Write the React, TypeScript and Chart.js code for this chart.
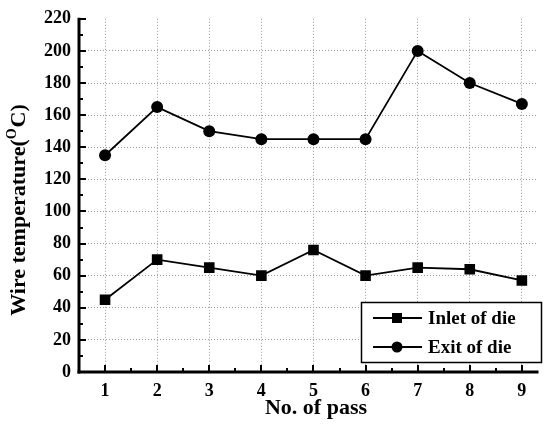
import React, { useEffect, useRef } from "react";
import { Chart, registerables } from "chart.js";

Chart.register(...registerables);

const passes = [1, 2, 3, 4, 5, 6, 7, 8, 9];
const inletTemps = [45, 70, 65, 60, 76, 60, 65, 64, 57];
const exitTemps = [135, 165, 150, 145, 145, 145, 200, 180, 167];
const yTickValues = [0, 20, 40, 60, 80, 100, 120, 140, 160, 180, 200, 220];
const xTickValues = [1, 2, 3, 4, 5, 6, 7, 8, 9];
const seriesNames = ["Inlet of die", "Exit of die"];
const xTitle = "No. of pass";
const yTitleMain = "Wire temperature(";
const yTitleSup = "O";
const yTitleEnd = "C)";

const FONT = '"Liberation Serif", "Times New Roman", serif';

const decorPlugin = {
  id: "decor",
  afterDraw(chart: any) {
    const { ctx, chartArea, scales } = chart;
    const { left, right, top, bottom } = chartArea;
    const xs = scales.x;
    const ys = scales.y;
    ctx.save();
    ctx.strokeStyle = "#000";
    ctx.fillStyle = "#000";
    // axes
    ctx.lineWidth = 3;
    ctx.beginPath();
    ctx.moveTo(left, top - 1);
    ctx.lineTo(left, bottom + 1.5);
    ctx.stroke();
    ctx.beginPath();
    ctx.moveTo(left - 1.5, bottom);
    ctx.lineTo(right + 1, bottom);
    ctx.stroke();
    // y ticks (inward)
    ctx.lineWidth = 2;
    for (let v = 0; v <= 220; v += 10) {
      const py = Math.round(ys.getPixelForValue(v));
      const len = v % 20 === 0 ? 7 : 4;
      ctx.beginPath();
      ctx.moveTo(left, py);
      ctx.lineTo(left + len, py);
      ctx.stroke();
    }
    // x ticks (inward)
    for (let v = 1; v <= 9; v += 0.5) {
      const px = Math.round(xs.getPixelForValue(v));
      const len = Number.isInteger(v) ? 7 : 4;
      ctx.beginPath();
      ctx.moveTo(px, bottom);
      ctx.lineTo(px, bottom - len);
      ctx.stroke();
    }
    // x title
    ctx.font = `bold 22px ${FONT}`;
    ctx.textAlign = "center";
    ctx.textBaseline = "middle";
    ctx.fillText(xTitle, 316, 408);
    // y title with superscript
    ctx.save();
    ctx.translate(19, 210);
    ctx.rotate(-Math.PI / 2);
    ctx.textAlign = "left";
    ctx.textBaseline = "middle";
    const big = `bold 22px ${FONT}`;
    const small = `bold 14px ${FONT}`;
    ctx.font = big;
    const w1 = ctx.measureText(yTitleMain).width;
    const w3 = ctx.measureText(yTitleEnd).width;
    ctx.font = small;
    const w2 = ctx.measureText(yTitleSup).width + 1;
    const total = w1 + w2 + w3;
    let sx = -total / 2;
    ctx.font = big;
    ctx.fillText(yTitleMain, sx, 0);
    sx += w1;
    ctx.font = small;
    ctx.fillText(yTitleSup, sx, -7);
    sx += w2;
    ctx.font = big;
    ctx.fillText(yTitleEnd, sx, 0);
    ctx.restore();
    // legend
    const bx = 361.5, by = 302.5, bw = 180, bh = 60;
    ctx.fillStyle = "#fff";
    ctx.fillRect(bx, by, bw, bh);
    ctx.lineWidth = 1.5;
    ctx.strokeStyle = "#000";
    ctx.strokeRect(bx, by, bw, bh);
    ctx.fillStyle = "#000";
    const rows = [318, 347];
    seriesNames.forEach((name, i) => {
      const ry = rows[i];
      ctx.lineWidth = 2;
      ctx.beginPath();
      ctx.moveTo(373, ry);
      ctx.lineTo(422, ry);
      ctx.stroke();
      if (i === 0) {
        ctx.fillRect(397 - 5, ry - 5, 10, 10);
      } else {
        ctx.beginPath();
        ctx.arc(397, ry, 5.5, 0, Math.PI * 2);
        ctx.fill();
      }
      ctx.font = `bold 19px ${FONT}`;
      ctx.textAlign = "left";
      ctx.textBaseline = "middle";
      ctx.fillText(name, 428, ry + 1);
    });
    ctx.restore();
  },
};

export default function App() {
  const ref = useRef<HTMLCanvasElement | null>(null);
  useEffect(() => {
    document.body.style.margin = "0";
    const canvas = ref.current;
    if (!canvas) return;
    const gridColor = (c: any) =>
      c.tick && (c.tick.value === 0 || c.tick.value === 220) ? "rgba(0,0,0,0)" : "#9a9a9a";
    const chart = new Chart(canvas, {
      type: "line",
      data: {
        datasets: [
          {
            label: seriesNames[0],
            data: passes.map((p, i) => ({ x: p, y: inletTemps[i] })),
            borderColor: "#000",
            backgroundColor: "#000",
            borderWidth: 1.8,
            pointStyle: "rect",
            pointRadius: 7.5,
            pointBorderWidth: 0,
            tension: 0,
          },
          {
            label: seriesNames[1],
            data: passes.map((p, i) => ({ x: p, y: exitTemps[i] })),
            borderColor: "#000",
            backgroundColor: "#000",
            borderWidth: 1.8,
            pointStyle: "circle",
            pointRadius: 6,
            pointBorderWidth: 0,
            tension: 0,
          },
        ],
      },
      options: {
        responsive: false,
        animation: false,
        layout: { padding: { top: 15, right: 1, left: 0, bottom: 0 } },
        plugins: { legend: { display: false }, tooltip: { enabled: false } },
        scales: {
          x: {
            type: "linear",
            min: 0.5,
            max: 9.3,
            afterBuildTicks: (s: any) => {
              s.ticks = xTickValues.map((v) => ({ value: v }));
            },
            afterFit: (s: any) => {
              s.height = 56;
            },
            ticks: {
              color: "#000",
              font: { family: FONT, weight: "bold", size: 18 },
              padding: 9,
              maxRotation: 0,
              autoSkip: false,
            },
            grid: { color: "#9a9a9a", lineWidth: 1, drawTicks: false },
            border: { display: false, dash: [1, 2] },
          },
          y: {
            type: "linear",
            min: 0,
            max: 220,
            afterBuildTicks: (s: any) => {
              s.ticks = yTickValues.map((v) => ({ value: v }));
            },
            afterFit: (s: any) => {
              s.width = 79;
            },
            ticks: {
              color: "#000",
              font: { family: FONT, weight: "bold", size: 18 },
              padding: 8,
              autoSkip: false,
            },
            grid: { color: gridColor, lineWidth: 1, drawTicks: false },
            border: { display: false, dash: [1, 2] },
          },
        },
      },
      plugins: [decorPlugin],
    } as any);
    return () => chart.destroy();
  }, []);
  return <canvas ref={ref} width={545} height={428} style={{ display: "block" }} />;
}
